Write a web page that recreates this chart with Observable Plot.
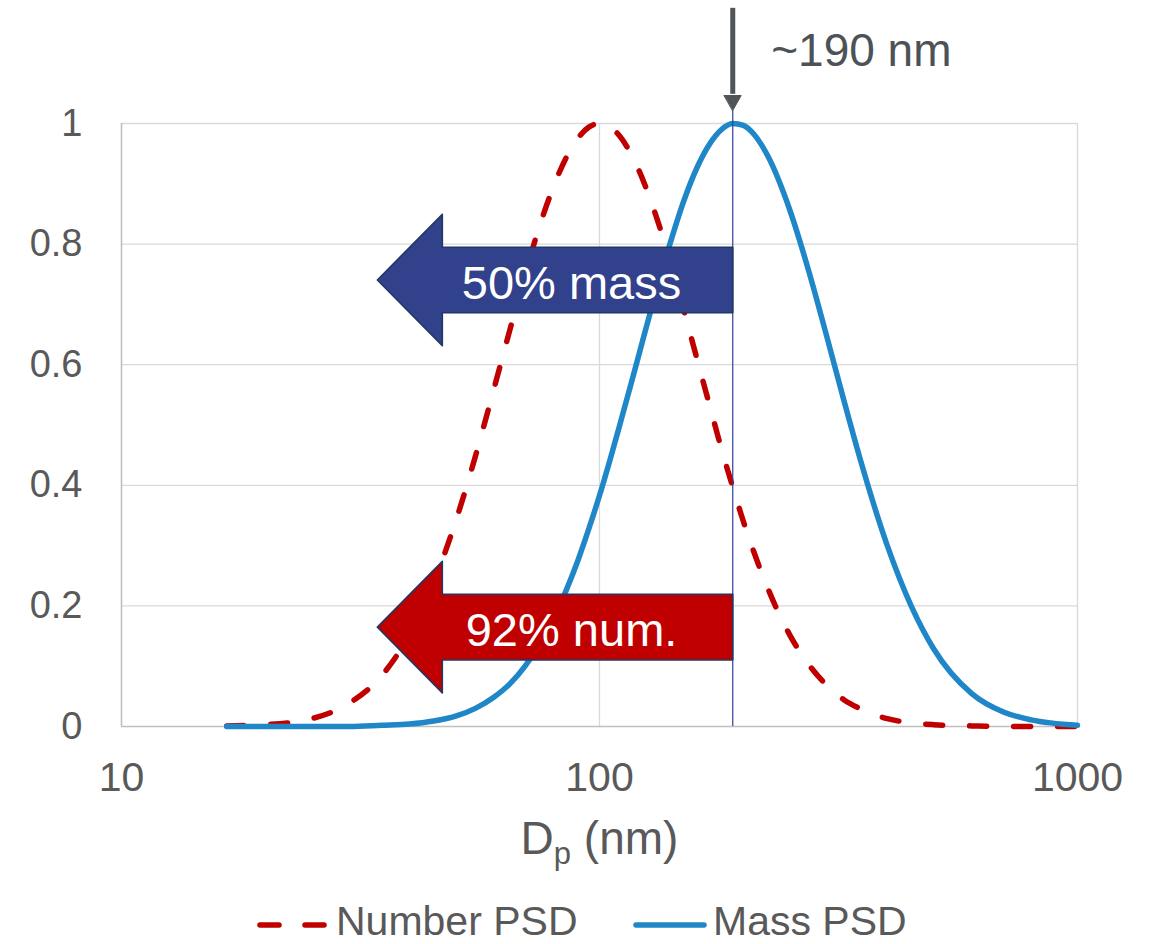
<!DOCTYPE html>
<html><head><meta charset="utf-8">
<script src="https://cdn.jsdelivr.net/npm/d3@7"></script>
<script src="https://cdn.jsdelivr.net/npm/@observablehq/plot@0.6"></script>
<style>
body{margin:0;background:#fff;font-family:"Liberation Sans",Arial,sans-serif;}
#chart{width:1149px;height:944px;overflow:hidden;}
#chart svg{display:block;}
</style></head><body><div id="chart"></div>
<script>
// particle diameter (nm) and normalised distributions
const dp = [16.6,20,25,30,35,40,45,50,55,60,65,70,75,80,85,90,95,100,105,110,120,130,140,150,160,170,180,190,200,210,225,250,275,300,325,350,400,450,500,600,700,800,1000];
const numberPSD = [0.001,0.003,0.013,0.039,0.084,0.152,0.239,0.340,0.448,0.557,0.659,0.752,0.831,0.894,0.942,0.975,0.994,1.000,0.995,0.980,0.928,0.857,0.776,0.691,0.609,0.532,0.460,0.397,0.340,0.291,0.229,0.152,0.101,0.067,0.044,0.030,0.013,0.006,0.003,0.001,0,0,0];
const massPSD = [0,0,0,0,0.002,0.004,0.009,0.017,0.030,0.048,0.071,0.101,0.137,0.178,0.224,0.274,0.328,0.383,0.440,0.497,0.607,0.709,0.797,0.871,0.927,0.966,0.990,1.000,0.997,0.983,0.946,0.857,0.751,0.642,0.539,0.447,0.300,0.198,0.129,0.055,0.024,0.011,0.002];
const seriesNames = ["Number PSD","Mass PSD"];
const seriesColors = ["#C00000","#1F86C8"];
const xTicks = [10,100,1000];
const yTicks = [0,0.2,0.4,0.6,0.8,1];
const xLabel = "Dp (nm)";

// annotations
const cutoffDp = 190;
const cutoffLabel = "~190 nm";
const cutoffLabelDp = 228.7;
const cutoffLabelY = 1.1206;
const pointerTop = 1.191, pointerHeadBase = 1.0464, pointerTip = 1.0216;
const pointerHeadDp = [182.4, 197.9];
const arrowLabels = ["50% mass","92% num."];
const arrowCenterY = [0.7405, 0.1648];
const arrowFills = ["#32418C","#C00000"];
const arrowTipDp = 34.3;
const arrowHeadBaseDp = 46.9;
const arrowTextDp = 87.4;
const arrowBodyHalf = 0.0544;
const arrowHeadHalf = 0.109;

const rows = dp.map((d,i)=>({dp:d, number:numberPSD[i], mass:massPSD[i]}));

function arrowPoly(c){
  return [
    {x:cutoffDp, y:c+arrowBodyHalf},
    {x:arrowHeadBaseDp, y:c+arrowBodyHalf},
    {x:arrowHeadBaseDp, y:c+arrowHeadHalf},
    {x:arrowTipDp, y:c},
    {x:arrowHeadBaseDp, y:c-arrowHeadHalf},
    {x:arrowHeadBaseDp, y:c-arrowBodyHalf},
    {x:cutoffDp, y:c-arrowBodyHalf}
  ];
}
const pointerHead = [
  {x:pointerHeadDp[0], y:pointerHeadBase},
  {x:pointerHeadDp[1], y:pointerHeadBase},
  {x:cutoffDp, y:pointerTip}
];

const FONT = "'Liberation Sans', Arial, sans-serif";
const GRID = "#D9D9D9";

const marks = [
  Plot.gridY(yTicks.filter(v=>v>0), {stroke:GRID, strokeOpacity:1, strokeWidth:1.3}),
  Plot.gridX([100,1000], {stroke:GRID, strokeOpacity:1, strokeWidth:1.3}),
  Plot.ruleY([0], {stroke:"#BFBFBF", strokeWidth:1.6}),
  Plot.ruleX([10], {stroke:"#BFBFBF", strokeWidth:1.6}),
  Plot.axisY(yTicks, {tickSize:0, tickPadding:39, fontSize:38, tickFormat:d=>String(d), label:null}),
  Plot.axisX(xTicks, {tickSize:0, tickPadding:35, fontSize:41, tickFormat:d=>String(d), label:null}),
  Plot.text([xLabel], {x:()=>100, y:()=>0, dy:113, fontSize:46, fill:"#595959", className:"xlabel", lineAnchor:"middle"}),
  Plot.line(rows, {x:"dp", y:"number", stroke:seriesColors[0], strokeWidth:5.5, strokeDasharray:"17,27", strokeLinecap:"round", curve:"monotone-x"}),
  Plot.line(rows, {x:"dp", y:"mass", stroke:seriesColors[1], strokeWidth:5.5, curve:"monotone-x"}),
  Plot.ruleX([cutoffDp], {y1:0, y2:pointerTip, stroke:"#2F3F9F", strokeWidth:1.2}),
  ...arrowCenterY.map((c,i)=>Plot.line(arrowPoly(c), {x:"x", y:"y", fill:arrowFills[i], stroke:"#203864", strokeWidth:1.6, curve:"linear-closed"})),
  Plot.text(arrowLabels.map((t,i)=>({t, y:arrowCenterY[i]})), {x:()=>arrowTextDp, y:"y", text:"t", fill:"white", fontSize:47, dy:4, lineAnchor:"middle"}),
  Plot.ruleX([cutoffDp], {y1:pointerHeadBase+0.002, y2:pointerTop, stroke:"#50555A", strokeWidth:5}),
  Plot.line(pointerHead, {x:"x", y:"y", fill:"#50555A", stroke:"#50555A", strokeWidth:1, curve:"linear-closed"}),
  Plot.text([cutoffLabel], {x:()=>cutoffLabelDp, y:()=>cutoffLabelY, textAnchor:"start", fontSize:46, fill:"#4D5257", lineAnchor:"middle"})
];

const plot = Plot.plot({
  width:1149, height:890,
  marginLeft:121, marginRight:72, marginTop:123, marginBottom:164,
  style:{fontFamily:FONT, background:"white", color:"#595959", overflow:"visible"},
  x:{type:"log", domain:[10,1000]},
  y:{domain:[0,1]},
  marks
});

// subscript in axis label
const lab = d3.select(plot).select("g.xlabel text");
if (!lab.empty()) {
  lab.text("");
  lab.append("tspan").text("D");
  lab.append("tspan").attr("font-size", 31).attr("dy", 10).text("p");
  lab.append("tspan").attr("dy", -10).text(" (nm)");
}

document.getElementById("chart").appendChild(plot);

// legend below the chart
const leg = d3.select("#chart").append("svg").attr("width",1149).attr("height",54)
  .style("font-family", FONT);
const ly = 35;
leg.append("line").attr("x1",260).attr("x2",279).attr("y1",ly).attr("y2",ly)
  .attr("stroke",seriesColors[0]).attr("stroke-width",5.5).attr("stroke-linecap","round");
leg.append("line").attr("x1",305).attr("x2",324).attr("y1",ly).attr("y2",ly)
  .attr("stroke",seriesColors[0]).attr("stroke-width",5.5).attr("stroke-linecap","round");
leg.append("text").attr("x",336).attr("y",45).attr("font-size",41).attr("fill","#595959").text(seriesNames[0]);
leg.append("line").attr("x1",636).attr("x2",704).attr("y1",ly).attr("y2",ly)
  .attr("stroke",seriesColors[1]).attr("stroke-width",5.5).attr("stroke-linecap","round");
leg.append("text").attr("x",713).attr("y",45).attr("font-size",41).attr("fill","#595959").text(seriesNames[1]);
</script>
</body></html>
